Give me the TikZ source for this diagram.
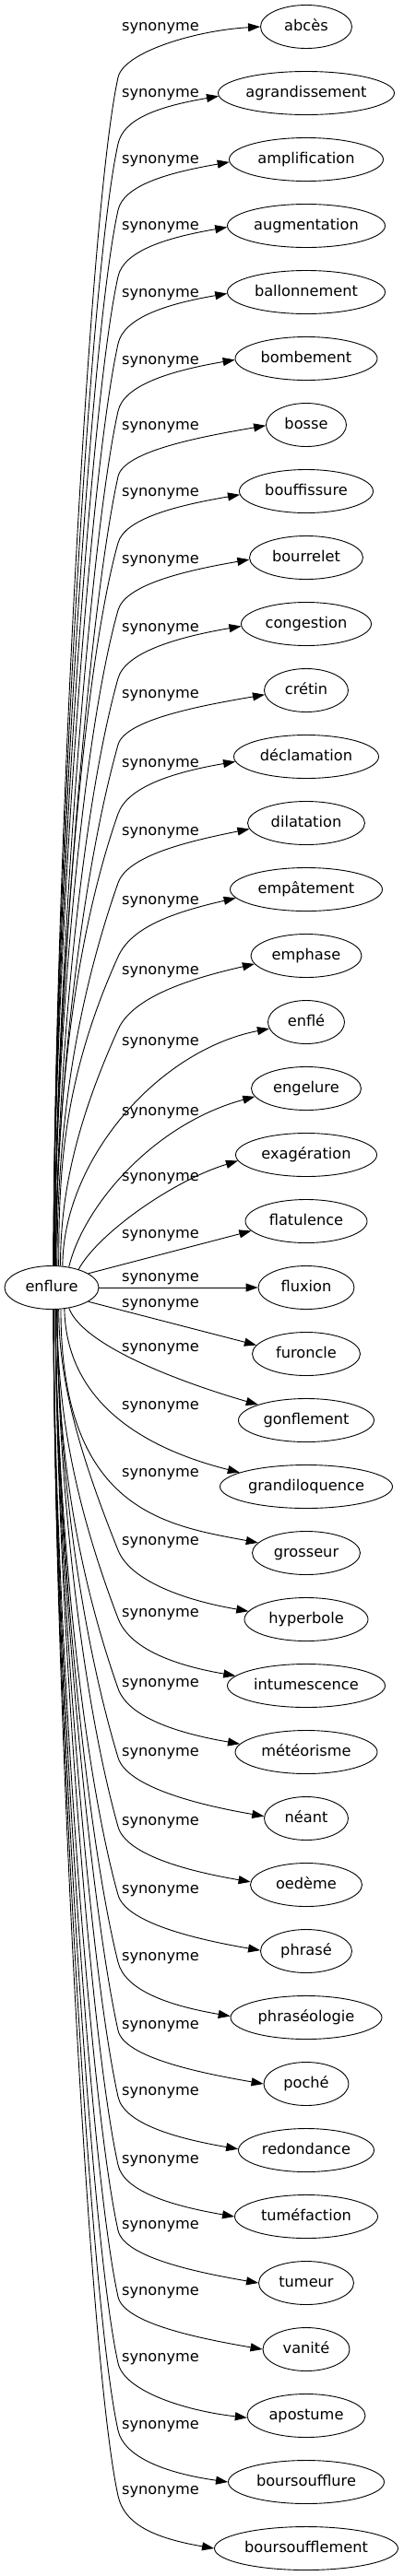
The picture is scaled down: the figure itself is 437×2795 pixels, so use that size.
\documentclass[tikz,border=0pt]{standalone}
\usepackage{fontspec}
\setmainfont{DejaVu Sans}
\usetikzlibrary{shapes.geometric,arrows.meta}
\tikzset{
  every node/.style={font=\fontsize{16.2}{19}\selectfont, text height=11.5pt, text depth=3.5pt, inner sep=0pt},
  term/.style={ellipse, draw, line width=0.9pt, minimum height=47pt},
  lbl/.style={},
  edge/.style={line width=0.9pt, -{Triangle[length=13pt,width=9pt]}}
}
% #1 target, #2 start angle, #3 bend y, #4 tilt, #5 end angle, #6 rise, #7 end slope
\newcommand\topedge[7]{%
  \pgfmathsetmacro\edgeH{0.3*(1373-#3)}%
  \pgfmathsetmacro\edgeK{min(150,0.4*(1373-#3))}%
  \pgfmathsetmacro\edgeKx{-#4*\edgeK}%
  \pgfmathsetmacro\edgeMx{#4*#6}%
  \draw[edge] (enflure.#2) .. controls +(0,-\edgeH) and +(\edgeKx,\edgeK) .. (128,#3)
    .. controls +(\edgeMx,-#6) and +(-70,#7) .. (#1.#5);
}
\newcommand\botedge[7]{%
  \pgfmathsetmacro\edgeH{0.3*(#3-1421)}%
  \pgfmathsetmacro\edgeK{min(150,0.4*(#3-1421))}%
  \pgfmathsetmacro\edgeKx{-#4*\edgeK}%
  \pgfmathsetmacro\edgeMx{#4*#6}%
  \draw[edge] (enflure.#2) .. controls +(0,\edgeH) and +(\edgeKx,-\edgeK) .. (128,#3)
    .. controls +(\edgeMx,#6) and +(-70,-#7) .. (#1.#5);
}
\begin{document}
\begin{tikzpicture}[x=1pt,y=-1pt]
\useasboundingbox (0,0) rectangle (437,2795);
\node[term, minimum width=102pt] (enflure) at (56,1397) {enflure};
% targets
\node[term, minimum width=99pt]  (t0)  at (332,29)   {abcès};
\node[term, minimum width=191pt] (t1)  at (332,101)  {agrandissement};
\node[term, minimum width=167pt] (t2)  at (332,173)  {amplification};
\node[term, minimum width=171pt] (t3)  at (332,245)  {augmentation};
\node[term, minimum width=171pt] (t4)  at (332,317)  {ballonnement};
\node[term, minimum width=154pt] (t5)  at (332,389)  {bombement};
\node[term, minimum width=87pt]  (t6)  at (332,461)  {bosse};
\node[term, minimum width=145pt] (t7)  at (332,533)  {bouffissure};
\node[term, minimum width=123pt] (t8)  at (332,605)  {bourrelet};
\node[term, minimum width=141pt] (t9)  at (332,677)  {congestion};
\node[term, minimum width=91pt]  (t10) at (332,749)  {crétin};
\node[term, minimum width=157pt] (t11) at (332,821)  {déclamation};
\node[term, minimum width=127pt] (t12) at (332,893)  {dilatation};
\node[term, minimum width=165pt] (t13) at (332,965)  {empâtement};
\node[term, minimum width=120pt] (t14) at (332,1037) {emphase};
\node[term, minimum width=83pt]  (t15) at (332,1109) {enflé};
\node[term, minimum width=119pt] (t16) at (332,1181) {engelure};
\node[term, minimum width=153pt] (t17) at (332,1253) {exagération};
\node[term, minimum width=132pt] (t18) at (332,1325) {flatulence};
\node[term, minimum width=104pt] (t19) at (332,1397) {fluxion};
\node[term, minimum width=117pt] (t20) at (332,1469) {furoncle};
\node[term, minimum width=147pt] (t21) at (332,1541) {gonflement};
\node[term, minimum width=187pt] (t22) at (332,1613) {grandiloquence};
\node[term, minimum width=117pt] (t23) at (332,1685) {grosseur};
\node[term, minimum width=134pt] (t24) at (332,1757) {hyperbole};
\node[term, minimum width=171pt] (t25) at (332,1829) {intumescence};
\node[term, minimum width=154pt] (t26) at (332,1901) {météorisme};
\node[term, minimum width=91pt]  (t27) at (332,1973) {néant};
\node[term, minimum width=121pt] (t28) at (332,2045) {oedème};
\node[term, minimum width=99pt]  (t29) at (332,2117) {phrasé};
\node[term, minimum width=164pt] (t30) at (332,2189) {phraséologie};
\node[term, minimum width=92pt]  (t31) at (332,2261) {poché};
\node[term, minimum width=147pt] (t32) at (332,2333) {redondance};
\node[term, minimum width=155pt] (t33) at (332,2405) {tuméfaction};
\node[term, minimum width=103pt] (t34) at (332,2477) {tumeur};
\node[term, minimum width=94pt]  (t35) at (332,2549) {vanité};
\node[term, minimum width=128pt] (t36) at (332,2621) {apostume};
\node[term, minimum width=169pt] (t37) at (332,2693) {boursoufflure};
\node[term, minimum width=199pt] (t38) at (332,2765) {boursoufflement};
% labels
\foreach \ly [count=\k from 0] in {29,101,173,245,318,391,462,534,607,681,753,828,902,977,1053,1130,1206,1277,1339,1386,1414,1462,1525,1598,1672,1750,1826,1901,1976,2050,2123,2197,2269,2343,2414,2486,2558,2631,2702}
  \node[lbl] (l\k) at (174,\ly) {synonyme};
% upper edges
\topedge{t0}{85}{84}{0.22}{180}{27.5}{4}
\topedge{t1}{85}{156}{0.22}{182}{25.5}{12}
\topedge{t2}{85}{228}{0.22}{182}{26}{12}
\topedge{t3}{85}{300}{0.22}{181}{26.5}{12}
\topedge{t4}{85}{373}{0.22}{181}{27}{12}
\topedge{t5}{82}{446}{0.22}{181}{28}{12}
\topedge{t6}{82}{517}{0.22}{181}{27.5}{12}
\topedge{t7}{82}{589}{0.28}{183}{26}{12}
\topedge{t8}{82}{662}{0.28}{182}{27.5}{12}
\topedge{t9}{79}{736}{0.28}{182.5}{28}{12}
\topedge{t10}{79}{808}{0.28}{186.5}{27}{12}
\topedge{t11}{79}{883}{0.35}{184}{28.5}{12}
\topedge{t12}{76}{958}{0.35}{186.5}{29}{14}
\topedge{t13}{72}{1038}{0.45}{187.6}{31.5}{16}
\topedge{t14}{68}{1117}{0.45}{189}{35.5}{16}
% middle edges
\draw[edge] (enflure.63) .. controls (68,1260) and (170,1140) .. (t15.190);
\draw[edge] (enflure.50) .. controls (90,1310) and (165,1220) .. (t16.189);
\draw[edge] (enflure.34) .. controls (105,1340) and (185,1282) .. (t17.185);
\draw[edge] (enflure.21) -- (t18.190);
\draw[edge] (enflure.east) -- (t19.west);
\draw[edge] (enflure.339) -- (t20.170);
\draw[edge] (enflure.310) .. controls (92,1465) and (220,1507) .. (t21.162);
\draw[edge] (enflure.301) .. controls (72,1530) and (170,1575) .. (t22.168);
\draw[edge] (enflure.293) .. controls (66,1640) and (180,1655) .. (t23.168);
% lower edges
\botedge{t24}{288}{1682}{0.4}{172}{33}{12}
\botedge{t25}{284}{1756}{0.38}{172.6}{31.5}{12}
\botedge{t26}{284}{1832}{0.35}{173.7}{30.5}{12}
\botedge{t27}{284}{1907}{0.3}{177.5}{32}{12}
\botedge{t28}{284}{1982}{0.28}{177}{30}{12}
\botedge{t29}{280}{2056}{0.28}{179}{30}{12}
\botedge{t30}{280}{2129}{0.25}{179.3}{29.5}{12}
\botedge{t31}{280}{2203}{0.22}{180}{29}{12}
\botedge{t32}{280}{2275}{0.22}{179}{28.5}{12}
\botedge{t33}{280}{2349}{0.22}{180}{28}{12}
\botedge{t34}{275}{2420}{0.22}{180}{28.5}{12}
\botedge{t35}{275}{2492}{0.22}{180}{28.5}{12}
\botedge{t36}{275}{2564}{0.22}{182}{29.5}{8}
\botedge{t37}{275}{2637}{0.22}{180}{28}{10}
\botedge{t38}{275}{2708}{0.22}{180}{28.5}{12}
\end{tikzpicture}
\end{document}
